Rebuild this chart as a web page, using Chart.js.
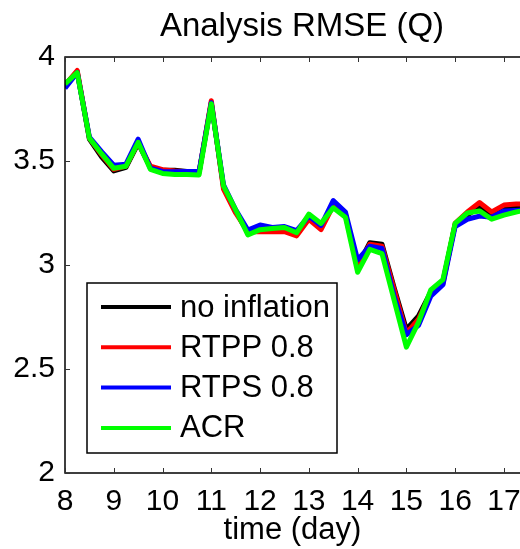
<!DOCTYPE html>
<html>
<head>
<meta charset="utf-8">
<script src="https://cdn.jsdelivr.net/npm/chart.js@4"></script>
<style>
  html, body { margin: 0; padding: 0; background: #fff; }
  #wrap { width: 520px; height: 549px; }
</style>
</head>
<body>
<div id="wrap"><canvas id="rmse"></canvas></div>
<script>
// analysis RMSE of Q, every 6 hours
const days = [8, 8.25, 8.5, 8.75, 9, 9.25, 9.5, 9.75, 10, 10.25, 10.5, 10.75, 11, 11.25, 11.5, 11.75,
              12, 12.25, 12.5, 12.75, 13, 13.25, 13.5, 13.75, 14, 14.25, 14.5, 14.75, 15, 15.25, 15.5, 15.75,
              16, 16.25, 16.5, 16.75, 17, 17.25, 17.5];

const noInflation = [3.865, 3.93, 3.605, 3.52, 3.452, 3.47, 3.585, 3.47, 3.455, 3.455, 3.45, 3.445, 3.78, 3.375, 3.26, 3.155,
                     3.175, 3.17, 3.17, 3.15, 3.235, 3.185, 3.29, 3.245, 2.995, 3.107, 3.10, 2.89, 2.69, 2.755, 2.87, 2.92,
                     3.195, 3.24, 3.28, 3.245, 3.275, 3.285, 3.29];
const rtpp = [3.865, 3.935, 3.61, 3.53, 3.46, 3.475, 3.59, 3.475, 3.458, 3.452, 3.448, 3.445, 3.79, 3.365, 3.25, 3.16,
              3.16, 3.16, 3.16, 3.14, 3.22, 3.17, 3.285, 3.24, 2.99, 3.10, 3.09, 2.88, 2.672, 2.74, 2.865, 2.91,
              3.2, 3.255, 3.30, 3.255, 3.288, 3.293, 3.295];
const rtps = [3.85, 3.925, 3.615, 3.545, 3.48, 3.485, 3.605, 3.465, 3.45, 3.448, 3.45, 3.45, 3.78, 3.385, 3.265, 3.168,
              3.192, 3.18, 3.185, 3.165, 3.235, 3.19, 3.31, 3.255, 3.025, 3.09, 3.08, 2.85, 2.665, 2.71, 2.85, 2.905,
              3.185, 3.22, 3.235, 3.23, 3.26, 3.262, 3.265];
const acr = [3.87, 3.925, 3.61, 3.535, 3.465, 3.475, 3.59, 3.46, 3.44, 3.435, 3.435, 3.433, 3.775, 3.38, 3.265, 3.145,
             3.17, 3.175, 3.18, 3.155, 3.245, 3.20, 3.275, 3.23, 2.965, 3.075, 3.055, 2.83, 2.605, 2.725, 2.88, 2.93,
             3.20, 3.25, 3.26, 3.22, 3.24, 3.255, 3.265];

const xTicks = [8, 9, 10, 11, 12, 13, 14, 15, 16, 17];
const yTicks = [2, 2.5, 3, 3.5, 4];

const FONT = 'Liberation Sans, Arial, Helvetica, sans-serif';

const series = [
    { label: 'no inflation', data: noInflation, color: '#000000' },
    { label: 'RTPP 0.8', data: rtpp, color: '#ff0000' },
    { label: 'RTPS 0.8', data: rtps, color: '#0000ff' },
    { label: 'ACR', data: acr, color: '#00ff00' }
];

// box around the axes with inward tick marks
const frame = {
    id: 'frame',
    afterDatasetsDraw(chart) {
        const { ctx, chartArea: a, scales: { x, y } } = chart;
        ctx.save();
        ctx.strokeStyle = '#000';
        ctx.lineWidth = 1.5;
        ctx.beginPath();
        ctx.moveTo(a.right + 2, a.top);
        ctx.lineTo(a.left, a.top);
        ctx.lineTo(a.left, a.bottom);
        ctx.lineTo(a.right + 2, a.bottom);
        ctx.stroke();
        ctx.lineWidth = 1;
        ctx.strokeStyle = '#333';
        ctx.beginPath();
        x.ticks.forEach(t => {
            const px = Math.round(x.getPixelForValue(t.value)) + 0.5;
            ctx.moveTo(px, a.top); ctx.lineTo(px, a.top + 5);
            ctx.moveTo(px, a.bottom); ctx.lineTo(px, a.bottom - 5);
        });
        y.ticks.forEach(t => {
            const py = Math.round(y.getPixelForValue(t.value)) + 0.5;
            ctx.moveTo(a.left, py); ctx.lineTo(a.left + 5, py);
        });
        ctx.stroke();
        ctx.restore();
    }
};

// title and the boxed legend in the lower left of the axes
const annotate = {
    id: 'annotate',
    afterDraw(chart) {
        const { ctx } = chart;
        ctx.save();
        ctx.fillStyle = '#000';
        ctx.font = '33px ' + FONT;
        ctx.textAlign = 'center';
        ctx.textBaseline = 'middle';
        ctx.fillText('Analysis RMSE (Q)', 302, 27);

        ctx.fillStyle = '#fff';
        ctx.fillRect(87, 283, 250, 170);
        ctx.strokeStyle = '#000';
        ctx.lineWidth = 1.5;
        ctx.strokeRect(87, 283, 250, 170);

        ctx.font = '31px ' + FONT;
        ctx.textAlign = 'left';
        series.forEach((s, i) => {
            const ly = 307 + i * 40.3;
            ctx.strokeStyle = s.color;
            ctx.lineWidth = 4;
            ctx.beginPath();
            ctx.moveTo(101, ly);
            ctx.lineTo(171, ly);
            ctx.stroke();
            ctx.fillStyle = '#000';
            ctx.fillText(s.label, 180, ly + 1);
        });
        ctx.restore();
    }
};

new Chart(document.getElementById('rmse'), {
    type: 'line',
    data: {
        datasets: series.map((s, i) => ({
            label: s.label,
            data: days.map((d, k) => ({ x: d, y: s.data[k] })),
            borderColor: s.color,
            backgroundColor: s.color,
            borderWidth: 5,
            borderJoinStyle: 'round',
            pointRadius: 0,
            tension: 0,
            order: series.length - i
        }))
    },
    options: {
        responsive: true,
        maintainAspectRatio: false,
        animation: false,
        layout: { padding: { top: 57, right: 0, bottom: 0, left: 0 } },
        plugins: {
            legend: { display: false },
            title: { display: false },
            tooltip: { enabled: false }
        },
        scales: {
            x: {
                type: 'linear',
                min: 8,
                max: 17.33,
                afterBuildTicks: s => { s.ticks = xTicks.map(v => ({ value: v })); },
                // fixed height, and let the "17" label run off the edge
                afterFit: s => { s.height = 76; s.paddingLeft = 0; s.paddingRight = 0; },
                grid: { display: false, drawTicks: false },
                border: { display: false },
                ticks: { color: '#000', font: { family: FONT, size: 30 }, padding: 11, maxRotation: 0, autoSkip: false },
                title: { display: true, text: 'time (day)', color: '#000', font: { family: FONT, size: 31 }, padding: 0 }
            },
            y: {
                min: 2,
                max: 4,
                afterBuildTicks: s => { s.ticks = yTicks.map(v => ({ value: v })); },
                afterFit: s => { s.width = 65; },
                grid: { display: false, drawTicks: false },
                border: { display: false },
                ticks: {
                    color: '#000',
                    font: { family: FONT, size: 30 },
                    padding: 10,
                    callback: v => String(v)
                }
            }
        }
    },
    plugins: [frame, annotate]
});
</script>
</body>
</html>
